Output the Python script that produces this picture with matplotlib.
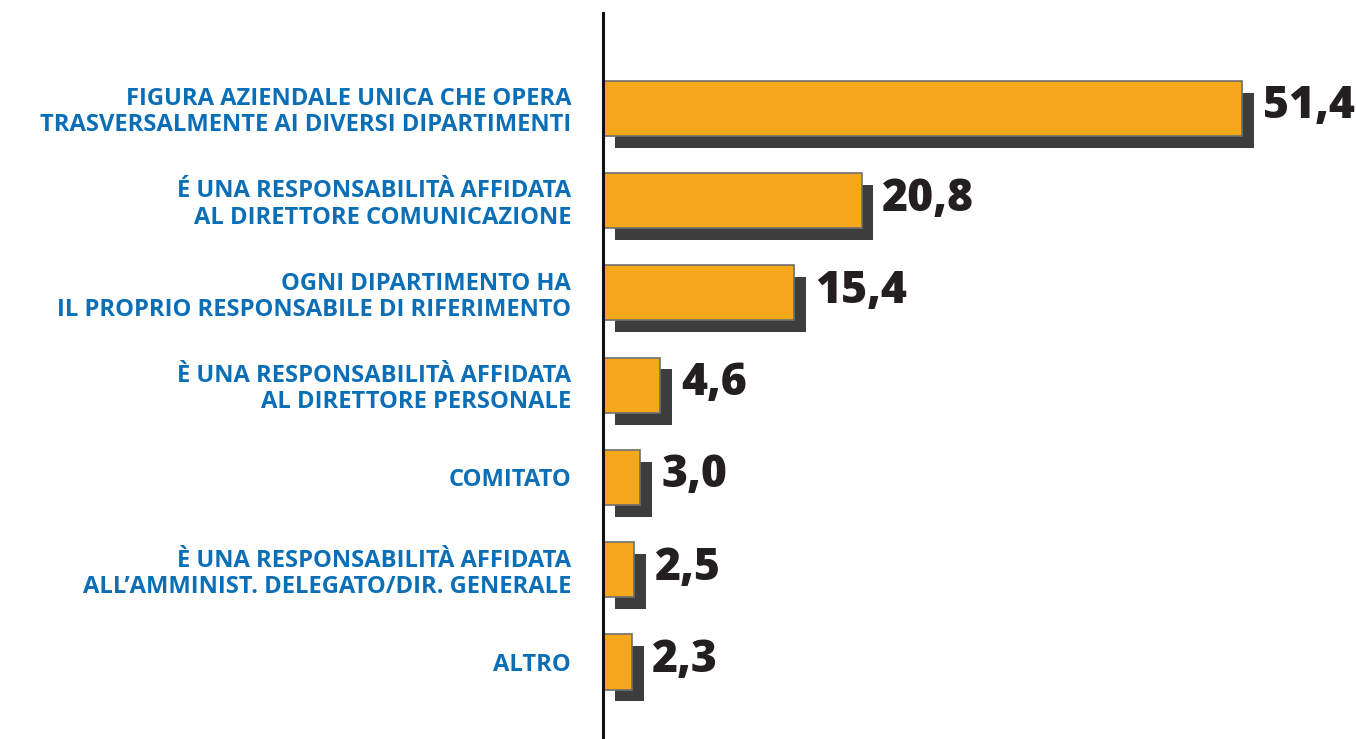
import matplotlib
matplotlib.use("Agg")
import matplotlib.pyplot as plt
import matplotlib.patheffects as pe

categories = [
    "FIGURA AZIENDALE UNICA CHE OPERA\nTRASVERSALMENTE AI DIVERSI DIPARTIMENTI",
    "É UNA RESPONSABILITÀ AFFIDATA\nAL DIRETTORE COMUNICAZIONE",
    "OGNI DIPARTIMENTO HA\nIL PROPRIO RESPONSABILE DI RIFERIMENTO",
    "È UNA RESPONSABILITÀ AFFIDATA\nAL DIRETTORE PERSONALE",
    "COMITATO",
    "È UNA RESPONSABILITÀ AFFIDATA\nALL’AMMINIST. DELEGATO/DIR. GENERALE",
    "ALTRO",
]
values = [51.4, 20.8, 15.4, 4.6, 3.0, 2.5, 2.3]
value_labels = ["51,4", "20,8", "15,4", "4,6", "3,0", "2,5", "2,3"]

W, H, DPI = 1356, 739, 100
fig = plt.figure(figsize=(W / DPI, H / DPI), dpi=DPI)
ax = fig.add_axes([603 / W, 0, 1 - 603 / W, (739 - 13) / H])

shadow = [pe.SimplePatchShadow(offset=(8.6, -8.6), shadow_rgbFace="#3d3d3d", alpha=1.0), pe.Normal()]
pos = list(range(len(values)))
bars = ax.barh(pos, values, height=0.596, color="#f7a71c", edgecolor="#6f6f6f", linewidth=1.2)
for b in bars:
    b.set_path_effects(shadow)

ax.set_xlim(0, 753 / 12.43)
ax.set_ylim(6.834, -1.03)

for p, v, lab in zip(pos, values, value_labels):
    ax.annotate(lab, (v, p), xytext=(15, 1), textcoords="offset points",
                ha="left", va="center", fontsize=32, fontweight=800,
                color="#231f20", family="Open Sans")

ax.set_yticks(pos)
ax.set_yticklabels(categories, fontsize=17.1, fontweight="bold", color="#0a6fb7",
                   family="Open Sans", linespacing=1.12)
ax.tick_params(axis="y", length=0, pad=23)
ax.set_xticks([])
for s in ["top", "right", "bottom"]:
    ax.spines[s].set_visible(False)
ax.spines["left"].set_linewidth(2.2)
ax.spines["left"].set_color("#111111")

fig.savefig("out.png", dpi=DPI)
